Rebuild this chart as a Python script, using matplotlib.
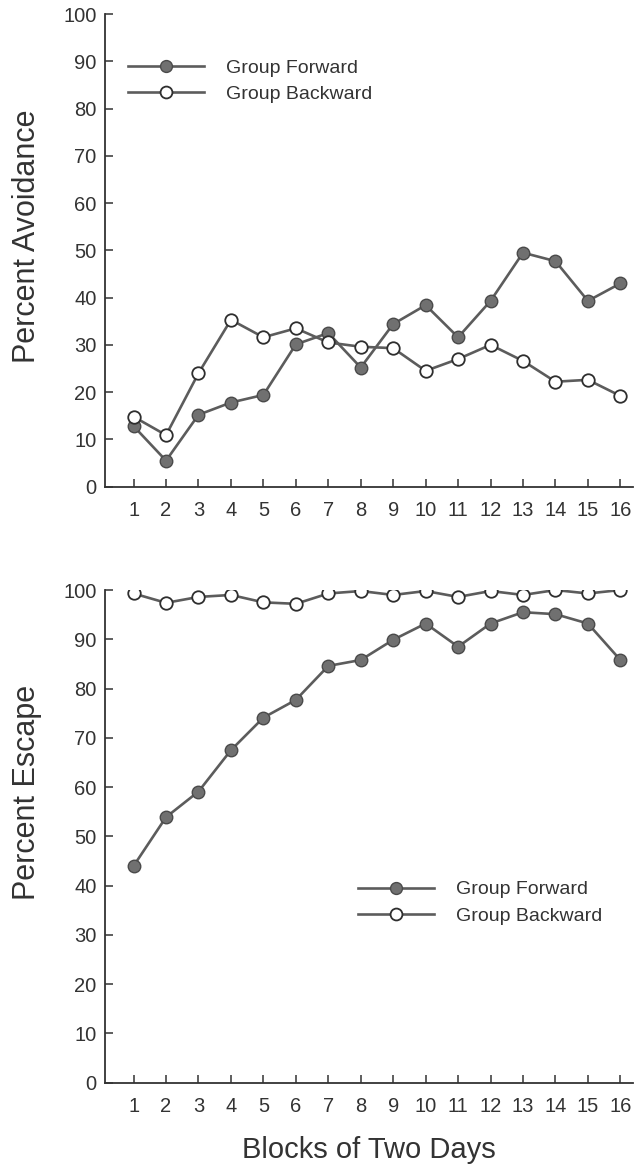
# 两组被试的回避率与逃避率曲线
import matplotlib
matplotlib.use("Agg")
from matplotlib import pyplot as plt

# 数据
blocks = list(range(1, 17))
avoid_forward = [12.8, 5.5, 15.2, 17.8, 19.4, 30.1, 32.5, 25.2,
                 34.4, 38.4, 31.6, 39.3, 49.5, 47.7, 39.3, 43.0]
avoid_backward = [14.8, 10.9, 24.0, 35.3, 31.6, 33.5, 30.5, 29.6,
                  29.3, 24.5, 27.0, 30.0, 26.6, 22.2, 22.6, 19.2]
escape_forward = [44.0, 53.9, 59.1, 67.5, 74.1, 77.7, 84.6, 85.8,
                  89.9, 93.2, 88.5, 93.2, 95.5, 95.1, 93.2, 85.8]
escape_backward = [99.3, 97.4, 98.6, 99.0, 97.5, 97.2, 99.3, 99.8,
                   99.0, 99.8, 98.6, 99.8, 99.0, 100.0, 99.3, 100.0]
y_ticks = list(range(0, 101, 10))
legend_labels = ["Group Forward", "Group Backward"]

plt.rcParams['font.family'] = ['Liberation Sans', 'DejaVu Sans']

INK = '#333333'
LINE = '#5c5c5c'


def draw_panel(ax, forward, backward, ylabel, label_y, legend_xy):
    """画一个面板：两条折线、坐标轴和图例。"""
    ax.plot(blocks, forward, color=LINE, lw=1.9, marker='o', ms=9.0,
            mfc='#707070', mec='#4a4a4a', mew=1.0, label=legend_labels[0], zorder=3)
    ax.plot(blocks, backward, color=LINE, lw=1.9, marker='o', ms=9.0,
            mfc='white', mec='#2e2e2e', mew=1.3, label=legend_labels[1], zorder=3)

    ax.set_xlim(0.12, 16.39)
    ax.set_ylim(0, 100)
    ax.set_xticks(blocks)
    ax.set_yticks(y_ticks)
    for side in ('top', 'right'):
        ax.spines[side].set_visible(False)
    for side in ('left', 'bottom'):
        ax.spines[side].set_color(INK)
        ax.spines[side].set_linewidth(1.3)
    ax.tick_params(axis='both', direction='in', length=6, width=1.1,
                   color=INK, labelcolor=INK, labelsize=14.5)
    ax.tick_params(axis='x', pad=10)
    ax.tick_params(axis='y', pad=6)

    ax.set_ylabel(ylabel, fontsize=22, color=INK)
    ax.yaxis.set_label_coords(-0.12, label_y)

    ax.legend(loc='upper left', bbox_to_anchor=legend_xy, frameon=False,
              fontsize=14, handlelength=3.9, handletextpad=1.15,
              labelspacing=0.45, borderpad=0, borderaxespad=0,
              labelcolor=INK, markerscale=0.95)


if __name__ == "__main__":
    fig = plt.figure(figsize=(6.35, 11.67), dpi=100)
    ax_top = fig.add_axes([0.1654, 0.583, 0.8315, 0.405])
    ax_bot = fig.add_axes([0.1654, 0.0722, 0.8315, 0.4222])

    draw_panel(ax_top, avoid_forward, avoid_backward, "Percent Avoidance",
               0.53, (0.044, 0.905))
    draw_panel(ax_bot, escape_forward, escape_backward, "Percent Escape",
               0.59, (0.479, 0.41))
    ax_bot.set_xlabel("Blocks of Two Days", fontsize=21, color=INK, labelpad=15)

    fig.savefig("out.png", dpi=100)
